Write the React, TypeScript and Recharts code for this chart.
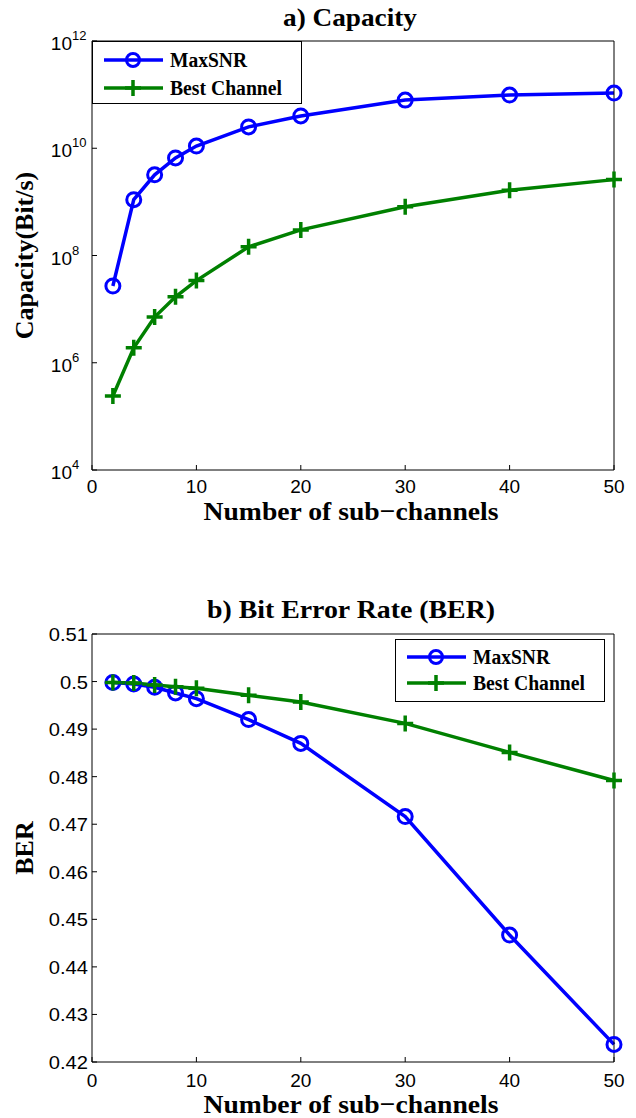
import { LineChart, Line, XAxis, YAxis, Legend, Label } from 'recharts'

// ─────────────────────────────────────────
// MaxSNR vs Best Channel
//   a) Capacity (log scale)
//   b) Bit Error Rate
// ─────────────────────────────────────────

const SERIF = '"Liberation Serif", "Times New Roman", serif'
const SANS = '"Liberation Sans", Arial, sans-serif'
const BLUE = '#0000FF'
const GREEN = '#008000'

// Data
const subChannels = [2, 4, 6, 8, 10, 15, 20, 30, 40, 50]
const capacityMaxSNR = [2.7e7, 1.1e9, 3.2e9, 6.6e9, 1.1e10, 2.5e10, 4.0e10, 7.9e10, 9.8e10, 1.07e11]
const capacityBest = [2.4e5, 1.9e6, 7.1e6, 1.7e7, 3.4e7, 1.45e8, 3.0e8, 8.1e8, 1.65e9, 2.6e9]
const berMaxSNR = [0.4998, 0.4995, 0.4988, 0.4976, 0.4964, 0.492, 0.487, 0.4716, 0.4467, 0.4237]
const berBest = [0.4998, 0.4997, 0.4993, 0.4989, 0.4986, 0.4971, 0.4957, 0.4912, 0.4851, 0.4792]

// Tick values
const xTicks = [0, 10, 20, 30, 40, 50]
const capacityTicks = [1e4, 1e6, 1e8, 1e10, 1e12]
const berTicks = [0.42, 0.43, 0.44, 0.45, 0.46, 0.47, 0.48, 0.49, 0.5, 0.51]

// Legend order as in the figure
const seriesOrder = ['maxSNR', 'best']

const capacityData = subChannels.map((n, i) => ({
  n,
  maxSNR: capacityMaxSNR[i],
  best: capacityBest[i],
}))
const berData = subChannels.map((n, i) => ({
  n,
  maxSNR: berMaxSNR[i],
  best: berBest[i],
}))

// Markers
function CircleDot({ cx, cy, index }: any) {
  if (cx == null || cy == null) return null
  return <circle key={`o-${index}`} cx={cx} cy={cy} r={7} fill="none" stroke={BLUE} strokeWidth={3} />
}

function PlusDot({ cx, cy, index }: any) {
  if (cx == null || cy == null) return null
  return (
    <path
      key={`p-${index}`}
      d={`M${cx - 8},${cy}H${cx + 8}M${cx},${cy - 8}V${cy + 8}`}
      stroke={GREEN}
      strokeWidth={3.5}
      fill="none"
    />
  )
}

// Ticks (tickSize is negative so tick marks point inward)
function XTick({ x, y, payload, dy }: any) {
  return (
    <text x={x} y={y + dy} textAnchor="middle" fontFamily={SANS} fontSize={19} fill="#000">
      {payload.value}
    </text>
  )
}

function LogTick({ x, y, payload }: any) {
  const exp = Math.round(Math.log10(payload.value))
  return (
    <g>
      <text x={x - 25} y={y + 9} textAnchor="end" fontFamily={SANS} fontSize={19} fill="#000">
        10
      </text>
      <text x={x - 25} y={y - 1} textAnchor="start" fontFamily={SANS} fontSize={13} fill="#000">
        {exp}
      </text>
    </g>
  )
}

function BerTick({ x, y, payload }: any) {
  return (
    <g transform={`translate(${x - 9},${y + 7}) scale(1.12,1)`}>
      <text x={0} y={0} textAnchor="end" fontFamily={SANS} fontSize={18} fill="#000">
        {payload.value}
      </text>
    </g>
  )
}

// Axis titles
function XTitle({ viewBox, dy }: any) {
  const { x, y, width } = viewBox
  return (
    <text
      x={x + width / 2 - 2}
      y={y + dy}
      textAnchor="middle"
      fontFamily={SERIF}
      fontWeight="bold"
      fontSize={26}
      textLength={295}
      lengthAdjust="spacingAndGlyphs"
    >
      Number of sub−channels
    </text>
  )
}

function YTitle({ viewBox, text }: any) {
  const { y, height } = viewBox
  const cy = y + height / 2
  return (
    <text
      x={33}
      y={cy}
      transform={`rotate(-90, 33, ${cy})`}
      textAnchor="middle"
      fontFamily={SERIF}
      fontWeight="bold"
      fontSize={26}
    >
      {text}
    </text>
  )
}

// Legend box
const legendWidths: Record<string, number> = { MaxSNR: 77, 'Best Channel': 112 }

function LegendBox({ payload, rows }: any) {
  const items = [...(payload || [])].sort(
    (a: any, b: any) => seriesOrder.indexOf(a.dataKey) - seriesOrder.indexOf(b.dataKey),
  )
  return (
    <svg width={210} height={63} style={{ display: 'block' }}>
      <rect x={0.5} y={0.5} width={209} height={62} fill="#fff" stroke="#000" strokeWidth={1} />
      {items.map((entry: any, i: number) => {
        const ry = rows[i]
        const circle = entry.dataKey === 'maxSNR'
        return (
          <g key={entry.value}>
            <line x1={12} x2={71} y1={ry} y2={ry} stroke={entry.color} strokeWidth={3.5} />
            {circle ? (
              <circle cx={41} cy={ry} r={6.5} fill="none" stroke={entry.color} strokeWidth={3} />
            ) : (
              <path d={`M33,${ry}H49M41,${ry - 8}V${ry + 8}`} stroke={entry.color} strokeWidth={3.5} />
            )}
            <text
              x={78}
              y={ry + 7}
              fontFamily={SERIF}
              fontWeight="bold"
              fontSize={20}
              textLength={legendWidths[entry.value]}
              lengthAdjust="spacingAndGlyphs"
            >
              {entry.value}
            </text>
          </g>
        )
      })}
    </svg>
  )
}

const axisStroke = { stroke: '#000', strokeWidth: 1 }

function CapacityChart() {
  return (
    <LineChart width={636} height={540} data={capacityData} margin={{ top: 40, right: 21, left: 0, bottom: 0 }}>
      <text
        x={350}
        y={26}
        textAnchor="middle"
        fontFamily={SERIF}
        fontWeight="bold"
        fontSize={26}
        textLength={134}
        lengthAdjust="spacingAndGlyphs"
      >
        a) Capacity
      </text>

      <XAxis
        dataKey="n"
        type="number"
        domain={[0, 50]}
        ticks={xTicks}
        interval={0}
        height={70}
        tickSize={-5}
        tickMargin={0}
        axisLine={axisStroke}
        tickLine={axisStroke}
        tick={(p: any) => <XTick {...p} dy={28} />}
      >
        <Label content={(p: any) => <XTitle {...p} dy={50} />} />
      </XAxis>
      <XAxis
        xAxisId="top"
        orientation="top"
        dataKey="n"
        type="number"
        domain={[0, 50]}
        ticks={xTicks}
        interval={0}
        height={1}
        tickSize={-5}
        axisLine={axisStroke}
        tickLine={axisStroke}
        tick={false}
      />
      <YAxis
        scale="log"
        type="number"
        domain={[1e4, 1e12]}
        allowDataOverflow
        ticks={capacityTicks}
        interval={0}
        width={92}
        tickSize={-5}
        tickMargin={0}
        axisLine={axisStroke}
        tickLine={axisStroke}
        tick={(p: any) => <LogTick {...p} />}
      >
        <Label content={(p: any) => <YTitle {...p} text="Capacity(Bit/s)" />} />
      </YAxis>
      <YAxis
        yAxisId="r"
        orientation="right"
        scale="log"
        type="number"
        domain={[1e4, 1e12]}
        allowDataOverflow
        ticks={capacityTicks}
        interval={0}
        width={1}
        tickSize={-5}
        axisLine={axisStroke}
        tickLine={axisStroke}
        tick={false}
      />

      <Legend
        layout="horizontal"
        verticalAlign="middle"
        align="center"
        wrapperStyle={{ left: 92, top: 41, width: 210, height: 63 }}
        content={(p: any) => <LegendBox {...p} rows={[19, 47]} />}
      />

      <Line
        dataKey="maxSNR"
        name="MaxSNR"
        stroke={BLUE}
        strokeWidth={3.5}
        dot={CircleDot}
        activeDot={false}
        isAnimationActive={false}
      />
      <Line
        dataKey="best"
        name="Best Channel"
        stroke={GREEN}
        strokeWidth={3.5}
        dot={PlusDot}
        activeDot={false}
        isAnimationActive={false}
      />
    </LineChart>
  )
}

function BerChart() {
  return (
    <LineChart width={636} height={558} data={berData} margin={{ top: 73, right: 21, left: 0, bottom: 0 }}>
      <text
        x={351}
        y={58}
        textAnchor="middle"
        fontFamily={SERIF}
        fontWeight="bold"
        fontSize={26}
        textLength={288}
        lengthAdjust="spacingAndGlyphs"
      >
        b) Bit Error Rate (BER)
      </text>

      <XAxis
        dataKey="n"
        type="number"
        domain={[0, 50]}
        ticks={xTicks}
        interval={0}
        height={56}
        tickSize={-5}
        tickMargin={0}
        axisLine={axisStroke}
        tickLine={axisStroke}
        tick={(p: any) => <XTick {...p} dy={30} />}
      >
        <Label content={(p: any) => <XTitle {...p} dy={51} />} />
      </XAxis>
      <XAxis
        xAxisId="top"
        orientation="top"
        dataKey="n"
        type="number"
        domain={[0, 50]}
        ticks={xTicks}
        interval={0}
        height={1}
        tickSize={-5}
        axisLine={axisStroke}
        tickLine={axisStroke}
        tick={false}
      />
      <YAxis
        type="number"
        domain={[0.42, 0.51]}
        allowDataOverflow
        ticks={berTicks}
        interval={0}
        width={92}
        tickSize={-5}
        tickMargin={0}
        axisLine={axisStroke}
        tickLine={axisStroke}
        tick={(p: any) => <BerTick {...p} />}
      >
        <Label content={(p: any) => <YTitle {...p} text="BER" />} />
      </YAxis>
      <YAxis
        yAxisId="r"
        orientation="right"
        type="number"
        domain={[0.42, 0.51]}
        allowDataOverflow
        ticks={berTicks}
        interval={0}
        width={1}
        tickSize={-5}
        axisLine={axisStroke}
        tickLine={axisStroke}
        tick={false}
      />

      <Legend
        layout="horizontal"
        verticalAlign="middle"
        align="center"
        wrapperStyle={{ left: 395, top: 79, width: 210, height: 63 }}
        content={(p: any) => <LegendBox {...p} rows={[18, 44]} />}
      />

      <Line
        dataKey="maxSNR"
        name="MaxSNR"
        stroke={BLUE}
        strokeWidth={3.5}
        dot={CircleDot}
        activeDot={false}
        isAnimationActive={false}
      />
      <Line
        dataKey="best"
        name="Best Channel"
        stroke={GREEN}
        strokeWidth={3.5}
        dot={PlusDot}
        activeDot={false}
        isAnimationActive={false}
      />
    </LineChart>
  )
}

export default function App() {
  return (
    <div style={{ position: 'absolute', left: 0, top: 0, width: 636, height: 1118, background: '#fff' }}>
      <div style={{ position: 'absolute', left: 0, top: 0 }}>
        <CapacityChart />
      </div>
      <div style={{ position: 'absolute', left: 0, top: 560 }}>
        <BerChart />
      </div>
    </div>
  )
}
